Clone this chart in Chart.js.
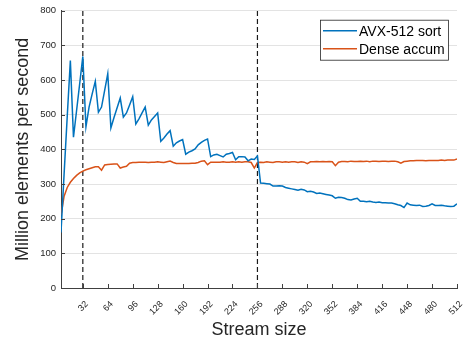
<!DOCTYPE html>
<html>
<head>
<meta charset="utf-8">
<script src="https://cdn.jsdelivr.net/npm/chart.js@4/dist/chart.umd.min.js"></script>
<style>
html, body { margin: 0; padding: 0; background: #fff; }
</style>
</head>
<body>
<canvas id="c" width="469" height="345"></canvas>
<script>
// stream sizes (x)
const streamSize = [
  4, 8, 12, 16, 20, 24, 28, 32, 36, 40, 44, 48, 52, 56, 60, 64,
  68, 72, 76, 80, 84, 88, 92, 96, 100, 104, 108, 112, 116, 120, 124, 128,
  132, 136, 140, 144, 148, 152, 156, 160, 164, 168, 172, 176, 180, 184, 188, 192,
  196, 200, 204, 208, 212, 216, 220, 224, 228, 232, 236, 240, 244, 248, 252, 256,
  260, 264, 268, 272, 276, 280, 284, 288, 292, 296, 300, 304, 308, 312, 316, 320,
  324, 328, 332, 336, 340, 344, 348, 352, 356, 360, 364, 368, 372, 376, 380, 384,
  388, 392, 396, 400, 404, 408, 412, 416, 420, 424, 428, 432, 436, 440, 444, 448,
  452, 456, 460, 464, 468, 472, 476, 480, 484, 488, 492, 496, 500, 504, 508, 512
];

const avxSort = [
  160, 330, 495, 656, 435, 512, 590, 668,
  465, 522, 560, 596, 507, 522, 570, 618,
  462, 492, 520, 548, 493, 505, 528, 552,
  473, 488, 505, 522, 470, 485, 495, 505,
  423, 433, 444, 454, 409, 419, 424, 428,
  386, 392, 396, 401, 413, 420, 426, 430,
  379, 384, 386, 382, 378, 386, 388, 391,
  370, 379, 379, 378, 367, 372, 371, 381,
  303, 302, 301, 300, 294, 294, 295, 294,
  290, 288, 286, 284, 282, 285, 283, 278,
  279, 277, 273, 274, 272, 270, 268, 266,
  259, 262, 261, 259, 255, 254, 257, 259,
  250, 250, 249, 250, 248, 247, 248, 246,
  246, 245, 245, 243, 240, 238, 232, 245,
  240, 239, 238, 239, 235, 236, 238, 243,
  238, 238, 239, 237, 236, 235, 236, 243
];

const denseAccum = [
  210, 265, 290, 305, 316, 325, 332, 337,
  341, 344, 347, 350, 350, 340, 355, 356,
  357, 358, 358, 346, 349, 351, 360, 362,
  362, 363, 363, 363, 362, 363, 363, 364,
  363, 362, 364, 366, 362, 359, 359, 359,
  359, 359, 360, 360, 362, 366, 367, 356,
  363, 363, 363, 363, 364, 363, 363, 364,
  363, 364, 363, 364, 364, 362, 346, 362,
  363, 362, 364, 363, 362, 364, 364, 363,
  364, 363, 364, 364, 362, 364, 363, 359,
  364, 364, 365, 364, 365, 364, 365, 364,
  353, 363, 365, 365, 364, 366, 365, 365,
  366, 365, 366, 364, 366, 366, 365, 366,
  366, 365, 366, 366, 364, 360, 365, 366,
  367, 367, 368, 368, 368, 367, 368, 368,
  368, 368, 369, 368, 369, 369, 369, 372
];

const xTicks = [32, 64, 96, 128, 160, 192, 224, 256, 288, 320, 352, 384, 416, 448, 480, 512];
const markers = [32, 256];   // dashed vertical lines
const seriesNames = ['AVX-512 sort', 'Dense accum'];

const FONT = "'Liberation Sans', Arial, Helvetica, sans-serif";
const BLUE = '#0072BD';
const ORANGE = '#D95319';
const AXIS = '#404040';

const toPoints = (ys) => streamSize.map((x, i) => ({ x: x, y: ys[i] }));

const markerSets = markers.map(m => ({
  label: '',
  data: [{ x: m, y: 0 }, { x: m, y: 800 }],
  borderColor: '#1a1a1a',
  borderWidth: 1.2,
  borderDash: [5, 3],
  pointRadius: 0,
  isMarker: true
}));

// legend box inside the plot, top right, and inward tick marks
const boxLegend = {
  id: 'boxLegend',
  afterDatasetsDraw(chart) {
    const ctx = chart.ctx;
    const area = chart.chartArea;
    const xs = chart.scales.x, ys = chart.scales.y;
    ctx.save();
    // inward ticks
    ctx.strokeStyle = AXIS;
    ctx.lineWidth = 1;
    ctx.beginPath();
    xTicks.forEach(v => {
      const px = Math.round(xs.getPixelForValue(v)) + 0.5;
      ctx.moveTo(px, area.bottom);
      ctx.lineTo(px, area.bottom - 4);
    });
    for (let v = 0; v <= 800; v += 100) {
      const py = Math.round(ys.getPixelForValue(v)) + 0.5;
      ctx.moveTo(area.left, py);
      ctx.lineTo(area.left + 4, py);
    }
    ctx.stroke();

    // legend
    const w = 128, h = 40;
    const x0 = area.right - 9 - w, y0 = area.top + 9;
    ctx.fillStyle = '#fff';
    ctx.fillRect(x0, y0, w, h);
    ctx.strokeStyle = '#262626';
    ctx.lineWidth = 0.8;
    ctx.strokeRect(x0 + 0.5, y0 + 0.5, w, h);
    const cols = [BLUE, ORANGE];
    ctx.font = '14px ' + FONT;
    ctx.textBaseline = 'middle';
    ctx.fillStyle = '#000';
    seriesNames.forEach((name, i) => {
      const ly = y0 + 11 + i * 18;
      ctx.strokeStyle = cols[i];
      ctx.lineWidth = 1.5;
      ctx.beginPath();
      ctx.moveTo(x0 + 3, ly);
      ctx.lineTo(x0 + 37, ly);
      ctx.stroke();
      ctx.fillStyle = '#000';
      ctx.fillText(name, x0 + 39, ly + 1);
    });
    ctx.restore();
  }
};

new Chart(document.getElementById('c'), {
  type: 'line',
  data: {
    datasets: [
      {
        label: seriesNames[0],
        data: toPoints(avxSort),
        borderColor: BLUE,
        borderWidth: 1.5,
        pointRadius: 0,
        tension: 0
      },
      {
        label: seriesNames[1],
        data: toPoints(denseAccum),
        borderColor: ORANGE,
        borderWidth: 1.5,
        pointRadius: 0,
        tension: 0
      },
      ...markerSets
    ]
  },
  options: {
    responsive: false,
    animation: false,
    layout: { padding: { left: 0, right: 12, top: 5, bottom: 4 } },
    plugins: {
      legend: { display: false },
      tooltip: { enabled: false }
    },
    scales: {
      x: {
        type: 'linear',
        min: 4,
        max: 512,
        afterBuildTicks: (s) => { s.ticks = xTicks.map(v => ({ value: v })); },
        afterFit: (s) => { s.height = 53; },
        grid: { display: false },
        border: { display: true, color: AXIS, width: 1 },
        ticks: {
          autoSkip: false,
          minRotation: 45,
          maxRotation: 45,
          padding: 3,
          labelOffset: 4,
          color: '#262626',
          font: { family: FONT, size: 9 }
        },
        title: {
          display: true,
          text: 'Stream size',
          color: '#262626',
          font: { family: FONT, size: 18 },
          padding: { top: 0, bottom: 0 }
        }
      },
      y: {
        min: 0,
        max: 800,
        afterFit: (s) => { s.width = 61; },
        grid: { color: '#e3e3e3', drawTicks: false },
        border: { display: true, color: AXIS, width: 1 },
        ticks: {
          stepSize: 100,
          padding: 5,
          color: '#262626',
          font: { family: FONT, size: 9.5 }
        },
        title: {
          display: true,
          text: 'Million elements per second',
          color: '#262626',
          font: { family: FONT, size: 18 },
          padding: { top: 12, bottom: 0 }
        }
      }
    }
  },
  plugins: [boxLegend]
});
</script>
</body>
</html>
